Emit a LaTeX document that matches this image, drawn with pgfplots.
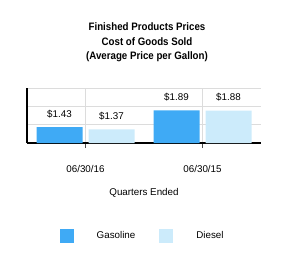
\documentclass[border=0pt]{standalone}
\usepackage{fontspec}
\setmainfont{Liberation Sans}
\newfontfamily\titlefont{Liberation Sans Bold}[FakeStretch=0.9]
\usepackage{pgfplots}
\pgfplotsset{compat=1.18}
\definecolor{gas}{HTML}{3FAAF5}
\definecolor{dsl}{HTML}{CCEBFB}
\definecolor{gridc}{HTML}{DCDCDC}
\begin{document}
\begin{tikzpicture}
\path[use as bounding box] (0,0) rectangle (294pt,273pt);
\begin{axis}[
  at={(27pt,130pt)}, anchor=south west,
  scale only axis, width=234pt, height=55pt,
  xmin=-0.5, xmax=1.5, ymin=1, ymax=2.5,
  ybar=6pt, bar width=46pt,
  xtick={0,1}, xticklabels={06/30/16,06/30/15},
  ytick={1.5,2,2.5}, yticklabels={},
  ymajorgrids, xmajorgrids,
  grid style={gridc, line width=0.8pt},
  axis x line*=bottom, axis y line*=left,
  axis line style={-, black, line width=1.3pt},
  ytick style={draw=none},
  xtick align=outside, major tick length=5pt,
  xtick style={color=black!70, line width=0.6pt},
  font=\fontsize{9.8}{11.8}\selectfont,
  xticklabel style={anchor=center, yshift=-21pt},
  xlabel={Quarters Ended},
  xlabel style={at={(axis description cs:0.5,-0.91)}, anchor=center},
  title={Finished Products Prices\\Cost of Goods Sold\\(Average Price per Gallon)},
  title style={at={(axis description cs:0.5,1)}, anchor=center, yshift=39.5pt, xshift=3pt, align=center, font=\titlefont\fontsize{10.8}{14.5}\selectfont},
  nodes near coords={\$\pgfmathprintnumber[fixed,fixed zerofill,precision=2,assume math mode=true]{\pgfplotspointmeta}},
  nodes near coords style={anchor=south, inner sep=0pt, yshift=9pt, black, font=\fontsize{9.8}{11.8}\selectfont},
  legend style={at={(axis description cs:0.49,-1.69)}, anchor=center, draw=none, fill=none,
    legend columns=2, nodes={inner sep=0pt, anchor=west},
    /tikz/every even column/.append style={column sep=24pt},
    font=\fontsize{9.8}{11.8}\selectfont},
  legend image code/.code={\fill[#1] (0pt,-7pt) rectangle (14pt,7pt); \path (37pt,0pt);},
]
\addplot[fill=gas, draw=none] coordinates {(0,1.43) (1,1.89)};
\addplot[fill=dsl, draw=none] coordinates {(0,1.37) (1,1.88)};
\legend{Gasoline,Diesel}
\end{axis}
\end{tikzpicture}
\end{document}
